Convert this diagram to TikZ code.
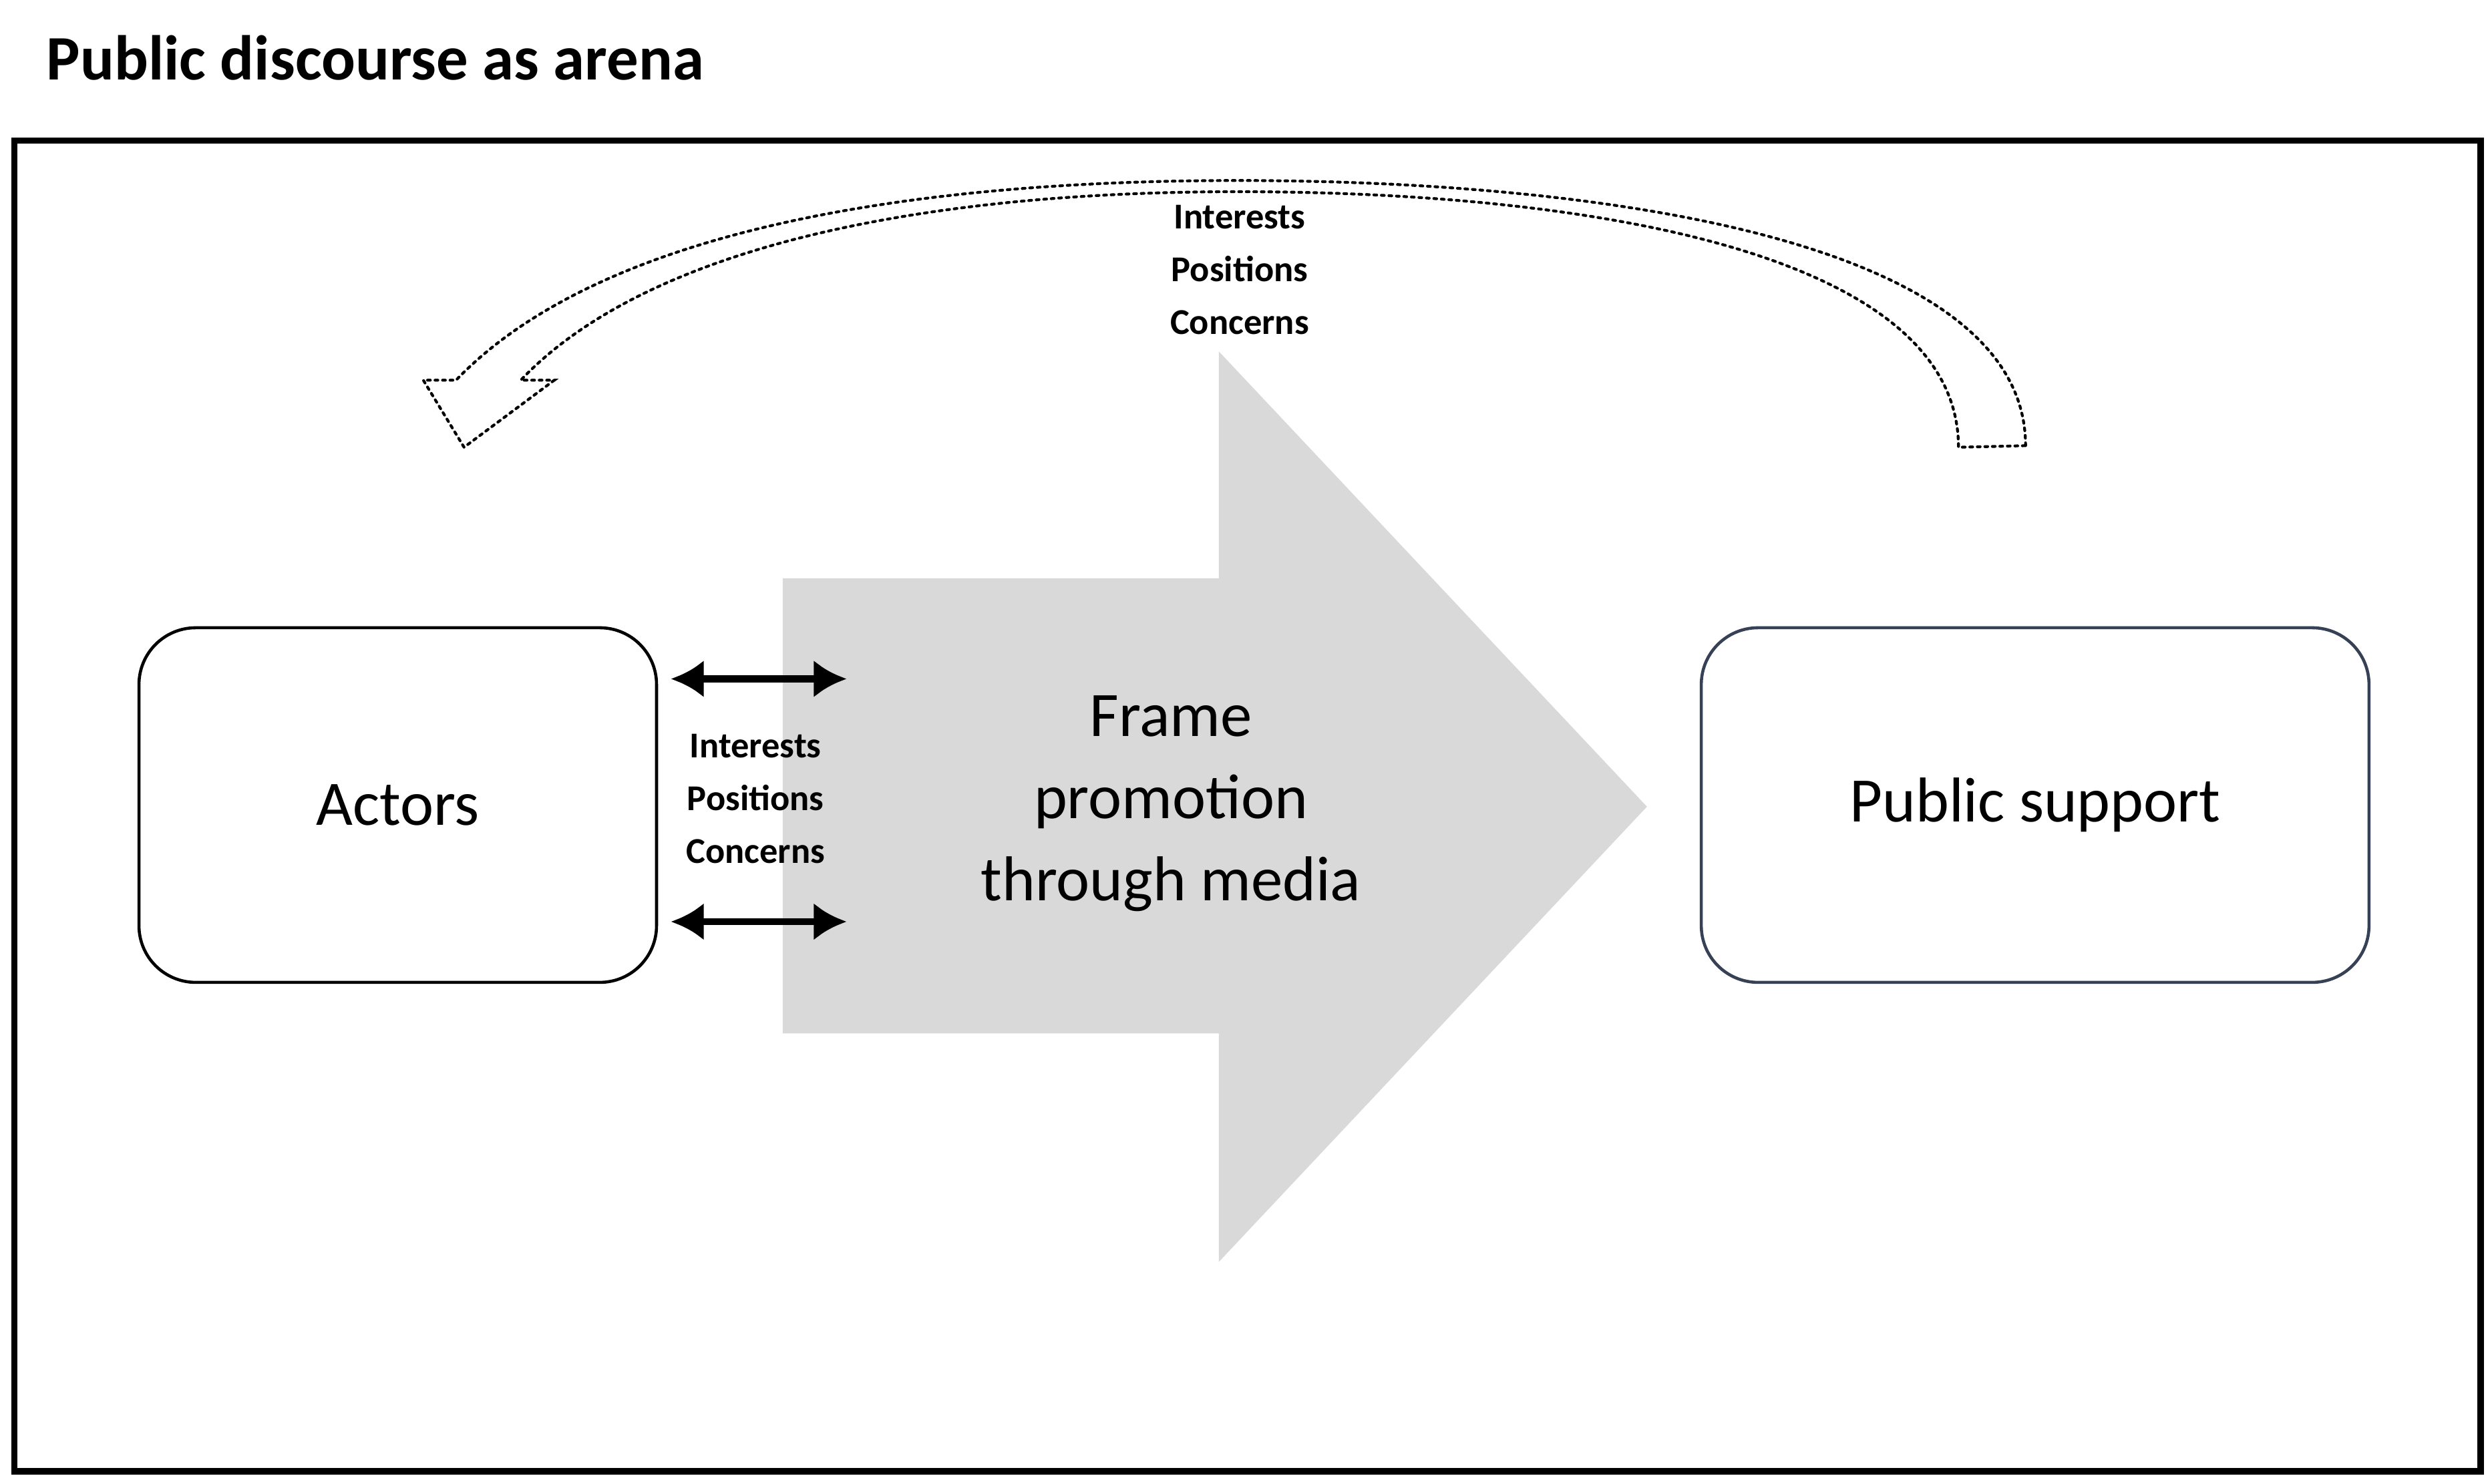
\documentclass[tikz,border=0pt]{standalone}
\usepackage{fontspec}
\setmainfont{Carlito}
\begin{document}
\begin{tikzpicture}[x=0.02392cm,y=-0.02392cm,
  box/.style={draw,line width=1.3pt,rounded corners=0.85cm,minimum width=324*0.02392cm,minimum height=222*0.02392cm,font=\fontsize{27}{32}\selectfont},
  lbl/.style={font=\bfseries\fontsize{15.5}{22.5}\selectfont,align=center},
  dbl/.style={line width=3pt,{Latex[length=14pt,width=16pt]}-{Latex[length=14pt,width=16pt]}}]
\usetikzlibrary{arrows.meta}
\useasboundingbox (0,0) rectangle (1560,929);
\node[anchor=west,font=\bfseries\fontsize{27}{32}\selectfont] (title) at (24,36) {Public discourse as arena};
\draw[line width=2.8pt] (9,88) rectangle (1553,921);
% big gray arrow
\fill[gray!30] (490,362) -- (763,362) -- (763,220) -- (1031,505) -- (763,790) -- (763,647) -- (490,647) -- cycle;
\node[align=center,font=\fontsize{27}{35}\selectfont] (frame) at (733,503) {Frame\\promotion\\through media};
\node[box] (actors) at (249,504) {Actors};
\node[box,draw={rgb,255:red,55;green,65;blue,85},minimum width=418*0.02392cm] (pub) at (1274,504) {Public support};
\coordinate (a1) at (420,425); \coordinate (b1) at (530,425);
\coordinate (a2) at (420,577); \coordinate (b2) at (530,577);
\draw[dbl] (a1) -- (b1);
\draw[dbl] (a2) -- (b2);
\node[lbl] (l1) at (473,500) {Interests\\Positions\\Concerns};
\node[lbl] (l2) at (776,169) {Interests\\Positions\\Concerns};
% hollow dotted curved arrow
\draw[dotted,line width=1.2pt,line cap=round]
  (1268,279) .. controls (1268,150) and (1000,113) .. (775,113)
  .. controls (550,113) and (370,150) .. (285.5,238)
  -- (265,238) -- (290.5,280) -- (347,238) -- (326,238)
  .. controls (400,160) and (560,120) .. (775,120)
  .. controls (1000,120) and (1226,160) .. (1226,280) -- cycle;
\end{tikzpicture}
\end{document}
